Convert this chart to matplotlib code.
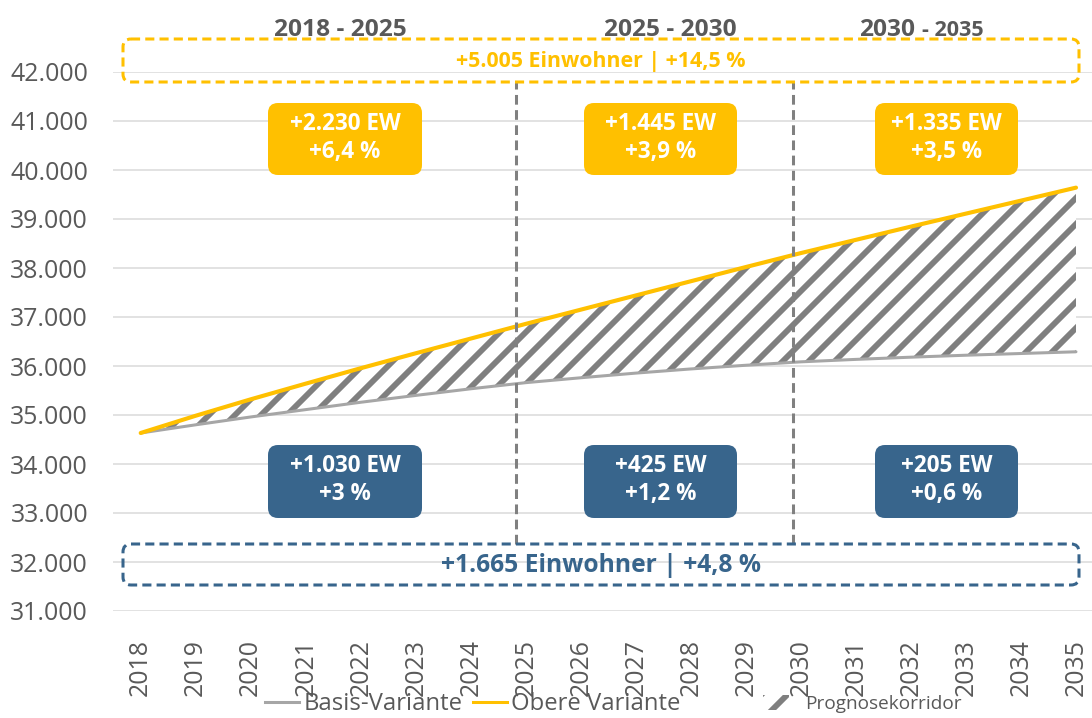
import matplotlib
matplotlib.use('Agg')
import matplotlib.pyplot as plt
from matplotlib.patches import FancyBboxPatch, Patch
from matplotlib.lines import Line2D
from matplotlib.ticker import FuncFormatter

plt.rcParams['font.family'] = ['Open Sans', 'DejaVu Sans']
plt.rcParams['hatch.linewidth'] = 2.7
plt.rcParams['hatch.color'] = '#7F7F7F'

# Daten
jahre = list(range(2018, 2036))
basis = [34633, 34800, 34960, 35110, 35260, 35400, 35535, 35660,
         35760, 35855, 35940, 36015, 36085,
         36135, 36180, 36220, 36255, 36290]
obere = [34633, 34985, 35320, 35640, 35955, 36260, 36560, 36860,
         37150, 37440, 37730, 38020, 38305,
         38575, 38845, 39110, 39375, 39640]

perioden = ['2018 - 2025', '2025 - 2030', '2030']
obere_texte = ['+2.230 EW\n+6,4 %', '+1.445 EW\n+3,9 %', '+1.335 EW\n+3,5 %']
basis_texte = ['+1.030 EW\n+3 %', '+425 EW\n+1,2 %', '+205 EW\n+0,6 %']
gesamt_obere = '+5.005 Einwohner | +14,5 %'
gesamt_basis = '+1.665 Einwohner | +4,8 %'
grenzen = [2024.82, 2029.86]

GELB = '#FFC000'
BLAU = '#38658C'
GRAU = '#A6A6A6'
TEXT = '#595959'

W, H, DPI = 1092, 718, 156
fig = plt.figure(figsize=(W / DPI, H / DPI), dpi=DPI)
ax = fig.add_axes([113 / W, 1 - 611 / H, 979 / W, 539 / H])

ax.fill_between(jahre, basis, obere, facecolor='white', edgecolor='#7F7F7F',
                hatch='//', linewidth=0, zorder=2)
ax.plot(jahre, basis, color=GRAU, lw=1.4, zorder=3, solid_capstyle='round')
ax.plot(jahre, obere, color=GELB, lw=1.9, zorder=4, solid_capstyle='round')

ax.set_xlim(2018 - 27.7 / 55.02, 2035 + 16 / 55.02)
ax.set_ylim(31000, 42000)
ax.set_yticks(range(31000, 42001, 1000))
ax.set_xticks(jahre)
ax.set_xticklabels([str(j) for j in jahre], rotation=90)
ax.yaxis.set_major_formatter(FuncFormatter(lambda v, p: f'{v:,.0f}'.replace(',', '.')))
ax.tick_params(axis='both', length=0, labelsize=11.5, labelcolor=TEXT)
ax.tick_params(axis='y', pad=11.5)
ax.tick_params(axis='x', pad=13)
ax.grid(axis='y', color='#D9D9D9', lw=0.7, zorder=0)
ax.set_axisbelow(True)
for s in ax.spines.values():
    s.set_visible(False)

for g in grenzen:
    ax.axvline(g, ymin=0.1243, ymax=0.9814, color='#808080', lw=1.4,
               ls=(0, (3.2, 1.8)), zorder=5, clip_on=False)

# Overlay in Pixelkoordinaten fuer Kaesten und Beschriftungen
ov = fig.add_axes([0, 0, 1, 1], facecolor='none')
ov.set_xlim(0, W)
ov.set_ylim(H, 0)
ov.axis('off')


def kasten(x0, y0, x1, y1, farbe, gefuellt, r):
    if gefuellt:
        p = FancyBboxPatch((x0, y0), x1 - x0, y1 - y0,
                           boxstyle=f'round,pad=0,rounding_size={r}',
                           facecolor=farbe, edgecolor='none')
    else:
        p = FancyBboxPatch((x0, y0), x1 - x0, y1 - y0,
                           boxstyle=f'round,pad=0,rounding_size={r}',
                           facecolor='none', edgecolor=farbe, lw=1.4,
                           ls=(0, (3.0, 1.7)))
    ov.add_patch(p)


kasten(123, 39, 1079, 82, GELB, False, 8)
ov.text(601, 61, gesamt_obere, color=GELB, fontsize=9.9, fontweight='bold',
        ha='center', va='center')
kasten(123, 544, 1079, 585, BLAU, False, 8)
ov.text(601, 565, gesamt_basis, color=BLAU, fontsize=11.4, fontweight='bold',
        ha='center', va='center')

x_kasten = [(268, 422), (584, 737), (875, 1018)]
for (x0, x1), t in zip(x_kasten, obere_texte):
    kasten(x0, 103, x1, 175, GELB, True, 10)
    ov.text((x0 + x1) / 2, 138, t, color='white', fontsize=10.4, fontweight='bold',
            ha='center', va='center', linespacing=1.2)
for (x0, x1), t in zip(x_kasten, basis_texte):
    kasten(x0, 445, x1, 518, BLAU, True, 10)
    ov.text((x0 + x1) / 2, 480, t, color='white', fontsize=10.4, fontweight='bold',
            ha='center', va='center', linespacing=1.2)

# Ueberschriften
ov.text(340, 36, perioden[0], color=TEXT, fontsize=11.3, fontweight='bold',
        ha='center', va='baseline')
ov.text(670, 36, perioden[1], color=TEXT, fontsize=11.3, fontweight='bold',
        ha='center', va='baseline')
ov.text(915, 36, perioden[2], color=TEXT, fontsize=11.3, fontweight='bold',
        ha='right', va='baseline')
ov.text(922, 36, '- 2035', color=TEXT, fontsize=10, fontweight='bold',
        ha='left', va='baseline')

# Legende
h1 = [Line2D([], [], color=GRAU, lw=1.4), Line2D([], [], color=GELB, lw=1.4)]
leg1 = fig.legend(h1, ['Basis-Variante', 'Obere Variante'], loc='center',
                  bbox_to_anchor=(473 / W, 1 - 704 / H), ncol=2, frameon=False,
                  fontsize=11, handlelength=1.4, handletextpad=0.2,
                  columnspacing=0.45, labelcolor=TEXT)
h2 = [Patch(facecolor='white', edgecolor='#7F7F7F', hatch='//', lw=0)]
leg2 = fig.legend(h2, ['Prognosekorridor'], loc='center',
                  bbox_to_anchor=(862 / W, 1 - 704 / H), frameon=False,
                  fontsize=8.8, handlelength=1.4, handleheight=0.8,
                  handletextpad=0.8, labelcolor=TEXT)

fig.savefig('out.png', dpi=DPI)
